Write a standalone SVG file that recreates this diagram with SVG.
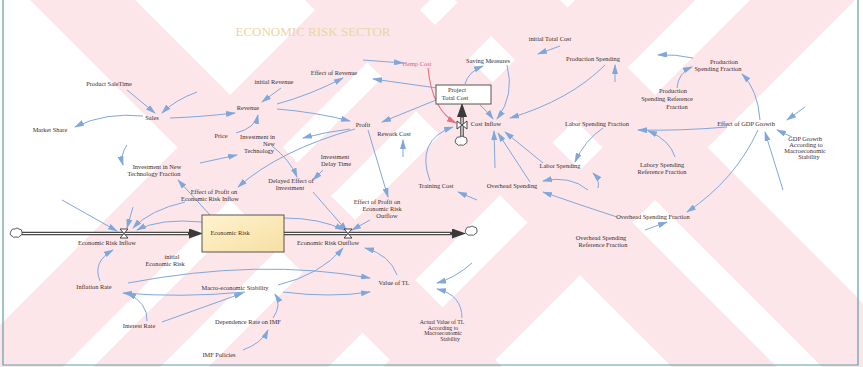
<svg xmlns="http://www.w3.org/2000/svg" width="863" height="367" viewBox="0 0 863 367">
  <style>
    .t { font-family: "Liberation Serif", "Times New Roman", serif; font-size: 6.4px; fill: #3a2e2e; text-anchor: middle; }
    .s { font-size: 5.8px; }
    .l { fill: none; stroke: #7fa7dc; stroke-width: 1; marker-end: url(#ah); }
    .r { fill: none; stroke: #e8707f; stroke-width: 1.1; marker-end: url(#ahr); }
    .band { fill: #fce6ea; }
    .pipe { fill: none; stroke: #4a4a4a; stroke-width: 3.6; }
    .pipein { fill: none; stroke: #ffffff; stroke-width: 1.2; }
    .valve { fill: #ffffff; stroke: #333; stroke-width: 0.9; }
    .cloud { fill: #ffffff; stroke: #333; stroke-width: 0.8; }
  </style>
  <defs>
    <marker id="ah" viewBox="0 0 10 6" refX="9" refY="3" markerWidth="10" markerHeight="6" markerUnits="userSpaceOnUse" orient="auto">
      <path d="M0,0 L10,3 L0,6 z" fill="#7fa7dc"/>
    </marker>
    <marker id="ahr" viewBox="0 0 10 6" refX="9" refY="3" markerWidth="10" markerHeight="6" markerUnits="userSpaceOnUse" orient="auto">
      <path d="M0,0 L10,3 L0,6 z" fill="#e8707f"/>
    </marker>
    <marker id="fh" viewBox="0 0 14 10" refX="13" refY="5" markerWidth="14" markerHeight="10" markerUnits="userSpaceOnUse" orient="auto">
      <path d="M0,0 L14,5 L0,10 z" fill="#3a3a3a"/>
    </marker>
    <linearGradient id="stockfill" x1="0" y1="0" x2="1" y2="1">
      <stop offset="0" stop-color="#fff3cf"/>
      <stop offset="1" stop-color="#f6dfa2"/>
    </linearGradient>
  </defs>

  <rect width="863" height="367" fill="#ffffff"/>

  <!-- pale watermark bands -->
  <g id="watermark">
    <polygon class="band" points="30,0 135,0 502,367 397,367"/>
    <polygon class="band" points="305,0 410,0 777,367 672,367"/>
    <polygon class="band" points="455,0 560,0 927,367 822,367"/>
    <polygon class="band" points="325,0 430,0 63,367 -42,367"/>
    <polygon class="band" points="460,0 527,0 160,367 93,367"/>
    <polygon class="band" points="575,0 695,0 328,367 208,367"/>
    <polygon class="band" points="750,0 855,0 488,367 383,367"/>
  </g>

  <!-- frame -->
  <path d="M3,0 V365 H858 V0" fill="none" stroke="#5e9ea3" stroke-width="1.2"/>

  <text x="313" y="36" font-family="Liberation Serif, serif" font-size="13" fill="#ead5a4" text-anchor="middle">ECONOMIC RISK SECTOR</text>

  <!-- flows -->
  <g id="flows">
    <path class="pipe" d="M22,233.5 H190"/>
    <path class="pipein" d="M22,233.5 H190"/>
    <path d="M188,233.5 H202" stroke="#3a3a3a" stroke-width="1" marker-end="url(#fh)"/>
    <path class="pipe" d="M284,233.5 H452"/>
    <path class="pipein" d="M284,233.5 H452"/>
    <path d="M450,233.5 H465" stroke="#3a3a3a" stroke-width="1" marker-end="url(#fh)"/>
    <path class="pipe" d="M462,137 V116"/>
    <path class="pipein" d="M462,137 V116"/>
    <path d="M462,118 V104" stroke="#3a3a3a" stroke-width="1" marker-end="url(#fh)"/>
  </g>

  <!-- connectors -->
  <g id="connectors">
    <path class="l" d="M127,90 L155,113"/>
    <path class="l" d="M197,92 Q175,100 162,113"/>
    <path class="l" d="M143,116 Q105,112 75,127"/>
    <path class="l" d="M170,118 Q200,117 235,113"/>
    <path class="l" d="M281,88 L262,102"/>
    <path class="l" d="M236,133 Q255,128 258,115"/>
    <path class="l" d="M277,104 Q310,95 343,78"/>
    <path class="l" d="M277,109 Q315,112 350,121"/>
    <path class="l" d="M437,88 L373,79"/>
    <path class="l" d="M436,100 L382,122"/>
    <path class="l" d="M363,60 L403,63"/>
    <path class="r" d="M428,68 Q432,110 456,123"/>
    <path class="l" d="M465,84 Q468,72 483,66"/>
    <path class="l" d="M507,65 Q515,95 497,119"/>
    <path class="l" d="M560,46 L538,54"/>
    <path class="l" d="M605,65 Q570,100 510,118"/>
    <path class="l" d="M480,105 Q488,112 493,119"/>
    <path class="l" d="M615,82 L615,65"/>
    <path class="l" d="M693,58 Q675,54 658,55"/>
    <path class="l" d="M677,88 Q678,73 692,67"/>
    <path class="l" d="M760,120 Q758,90 742,74"/>
    <path class="l" d="M805,107 L787,120"/>
    <path class="l" d="M727,127 Q680,131 638,130"/>
    <path class="l" d="M758,130 Q735,180 687,212"/>
    <path class="l" d="M783,190 L765,132"/>
    <path class="l" d="M792,137 L777,130"/>
    <path class="l" d="M675,157 Q670,140 648,131"/>
    <path class="l" d="M603,128 Q585,140 575,162"/>
    <path class="l" d="M598,188 Q600,180 593,173"/>
    <path class="l" d="M588,190 Q570,175 543,181"/>
    <path class="l" d="M617,217 Q580,205 543,192"/>
    <path class="l" d="M645,230 L667,222"/>
    <path class="l" d="M543,163 L505,132"/>
    <path class="l" d="M530,182 L498,133"/>
    <path class="l" d="M495,168 L494,131"/>
    <path class="l" d="M430,181 Q415,140 453,127"/>
    <path class="l" d="M477,200 L458,192"/>
    <path class="l" d="M403,157 L403,140"/>
    <path class="l" d="M350,129 Q325,132 303,138"/>
    <path class="l" d="M355,129 Q280,150 238,187"/>
    <path class="l" d="M368,130 L388,197"/>
    <path class="l" d="M272,146 Q290,160 297,177"/>
    <path class="l" d="M323,170 L313,180"/>
    <path class="l" d="M200,163 L237,155"/>
    <path class="l" d="M127,145 Q120,155 123,165"/>
    <path class="l" d="M210,215 L178,180"/>
    <path class="l" d="M313,192 L347,231"/>
    <path class="l" d="M370,220 L352,230"/>
    <path class="l" d="M284,218 Q320,218 344,230"/>
    <path class="l" d="M62,200 L117,231"/>
    <path class="l" d="M133,207 L127,228"/>
    <path class="l" d="M185,202 Q150,210 133,228"/>
    <path class="l" d="M202,222 Q160,218 137,230"/>
    <path class="l" d="M100,281 Q92,262 113,250"/>
    <path class="l" d="M245,292 Q180,298 123,293"/>
    <path class="l" d="M147,321 Q148,303 127,293"/>
    <path class="l" d="M162,322 L243,293"/>
    <path class="l" d="M128,283 Q260,258 370,278"/>
    <path class="l" d="M283,292 Q330,298 370,292"/>
    <path class="l" d="M278,285 Q320,275 343,248"/>
    <path class="l" d="M273,318 Q282,305 275,294"/>
    <path class="l" d="M243,350 Q262,343 268,330"/>
    <path class="l" d="M397,275 Q390,255 365,248"/>
    <path class="l" d="M472,263 Q455,278 437,283"/>
    <path class="l" d="M462,318 Q462,295 437,289"/>
  </g>

  <!-- stock: Economic Risk -->
  <g id="economic-risk">
    <rect x="202" y="215" width="82" height="37" fill="url(#stockfill)" stroke="#555" stroke-width="1"/>
    <text class="t" x="230" y="235">Economic Risk</text>
  </g>

  <!-- stock: Project Total Cost -->
  <g id="project-total-cost">
    <rect x="436" y="85" width="55" height="19" fill="#ffffff" stroke="#555" stroke-width="1"/>
    <text class="t" x="457" y="92">Project</text>
    <text class="t" x="455" y="100">Total Cost</text>
  </g>

  <!-- rates -->
  <g id="economic-risk-inflow">
    <path class="valve" d="M120,229 H128 L120,238 H128 Z"/>
    <text class="t" x="107" y="245">Economic Risk Inflow</text>
  </g>
  <g id="economic-risk-outflow">
    <path class="valve" d="M344,229 H352 L344,238 H352 Z"/>
    <text class="t" x="328" y="245">Economic Risk Outflow</text>
  </g>
  <g id="cost-inflow">
    <path class="valve" d="M457,121 V129 L467,121 V129 Z"/>
    <text class="t" x="486" y="126">Cost Inflow</text>
  </g>

  <!-- sources and sinks -->
  <g id="clouds">
    <path class="cloud" d="M11,231 q1,-3 4,-2 q2,-2 4,0 q3,0 3,3 q1,3 -2,4 q-1,2 -4,1 q-3,1 -4,-1 q-3,-1 -1,-5 z"/>
    <path class="cloud" d="M466,229 q1,-3 4,-2 q2,-2 4,0 q3,0 3,3 q1,3 -2,4 q-1,2 -4,1 q-3,1 -4,-1 q-3,-1 -1,-5 z"/>
    <path class="cloud" d="M456,139 q1,-3 4,-2 q2,-2 4,0 q3,0 3,3 q1,3 -2,4 q-1,2 -4,1 q-3,1 -4,-1 q-3,-1 -1,-5 z"/>
  </g>

  <!-- auxiliaries -->
  <g id="product-sale-time"><text class="t" x="109" y="86">Product SaleTime</text></g>
  <g id="initial-revenue"><text class="t" x="274" y="84">initial Revenue</text></g>
  <g id="sales"><text class="t" x="152" y="120">Sales</text></g>
  <g id="revenue"><text class="t" x="248" y="110">Revenue</text></g>
  <g id="market-share"><text class="t" x="50" y="132">Market Share</text></g>
  <g id="hemp-cost"><text class="t" x="417" y="66" style="fill:#e0607a">Hemp Cost</text></g>
  <g id="effect-of-revenue"><text class="t" x="334" y="75">Effect of Revenue</text></g>
  <g id="saving-measures"><text class="t" x="488" y="63">Saving Measures</text></g>
  <g id="initial-total-cost"><text class="t" x="550" y="41">initial Total Cost</text></g>
  <g id="profit"><text class="t" x="363" y="127">Profit</text></g>
  <g id="production-spending"><text class="t" x="593" y="61">Production Spending</text></g>
  <g id="production-spending-fraction">
    <text class="t" x="724" y="64">Production</text>
    <text class="t" x="718" y="71">Spending Fraction</text>
  </g>
  <g id="production-spending-reference-fraction">
    <text class="t" x="673" y="93">Production</text>
    <text class="t" x="667" y="101">Spending Reference</text>
    <text class="t" x="677" y="109">Fraction</text>
  </g>
  <g id="effect-of-gdp-growth"><text class="t" x="746" y="126">Effect of GDP Growth</text></g>
  <g id="labor-spending-fraction"><text class="t" x="597" y="126">Labor Spending Fraction</text></g>
  <g id="gdp-growth">
    <text class="t" x="805" y="141">GDP Growth</text>
    <text class="t" x="806" y="147">According to</text>
    <text class="t" x="805" y="153">Macroeconomic</text>
    <text class="t" x="809" y="159">Stability</text>
  </g>
  <g id="labory-spending-reference-fraction">
    <text class="t" x="662" y="167">Labory Spending</text>
    <text class="t" x="662" y="174">Reference Fraction</text>
  </g>
  <g id="labor-spending"><text class="t" x="560" y="168">Labor Spending</text></g>
  <g id="overhead-spending-fraction"><text class="t" x="653" y="219">Overhead Spending Fraction</text></g>
  <g id="overhead-spending-reference-fraction">
    <text class="t" x="601" y="240">Overhead Spending</text>
    <text class="t" x="603" y="247">Reference Fraction</text>
  </g>
  <g id="rework-cost"><text class="t" x="394" y="136">Rework Cost</text></g>
  <g id="investment-delay-time">
    <text class="t" x="335" y="159">Investment</text>
    <text class="t" x="336" y="166">Delay Time</text>
  </g>
  <g id="delayed-effect-of-investment">
    <text class="t" x="291" y="183">Delayed Effect of</text>
    <text class="t" x="290" y="190">Investment</text>
  </g>
  <g id="effect-of-profit-outflow">
    <text class="t" x="377" y="204">Effect of Profit on</text>
    <text class="t" x="382" y="211">Economic Risk</text>
    <text class="t" x="387" y="218">Outflow</text>
  </g>
  <g id="training-cost"><text class="t" x="436" y="188">Training Cost</text></g>
  <g id="overhead-spending"><text class="t" x="512" y="188">Overhead Spending</text></g>
  <g id="investment-in-new-technology">
    <text class="t" x="275" y="139" style="text-anchor:end">Investment in</text>
    <text class="t" x="275" y="146" style="text-anchor:end">New</text>
    <text class="t" x="274" y="153" style="text-anchor:end">Technology</text>
  </g>
  <g id="price"><text class="t" x="221" y="138">Price</text></g>
  <g id="investment-in-new-technology-fraction">
    <text class="t" x="157" y="169">Investment in New</text>
    <text class="t" x="154" y="176">Technology Fraction</text>
  </g>
  <g id="effect-of-profit-inflow">
    <text class="t" x="214" y="194">Effect of Profit on</text>
    <text class="t" x="210" y="201">Economic Risk Inflow</text>
  </g>
  <g id="initial-economic-risk">
    <text class="t" x="172" y="259">initial</text>
    <text class="t" x="165" y="266">Economic Risk</text>
  </g>
  <g id="inflation-rate"><text class="t" x="94" y="289">Inflation Rate</text></g>
  <g id="macro-economic-stability"><text class="t" x="235" y="290">Macro-economic Stability</text></g>
  <g id="interest-rate"><text class="t" x="139" y="328">Interest Rate</text></g>
  <g id="dependence-rate-on-imf"><text class="t" x="248" y="324">Dependence Rate on IMF</text></g>
  <g id="imf-policies"><text class="t" x="219" y="357">IMF Policies</text></g>
  <g id="value-of-tl"><text class="t" x="394" y="285">Value of TL</text></g>
  <g id="actual-value-of-tl">
    <text class="t s" x="442" y="324">Actual Value of TL</text>
    <text class="t s" x="443" y="329.5">According to</text>
    <text class="t s" x="443" y="335">Macroeconomic</text>
    <text class="t s" x="450" y="340.5">Stability</text>
  </g>
</svg>
